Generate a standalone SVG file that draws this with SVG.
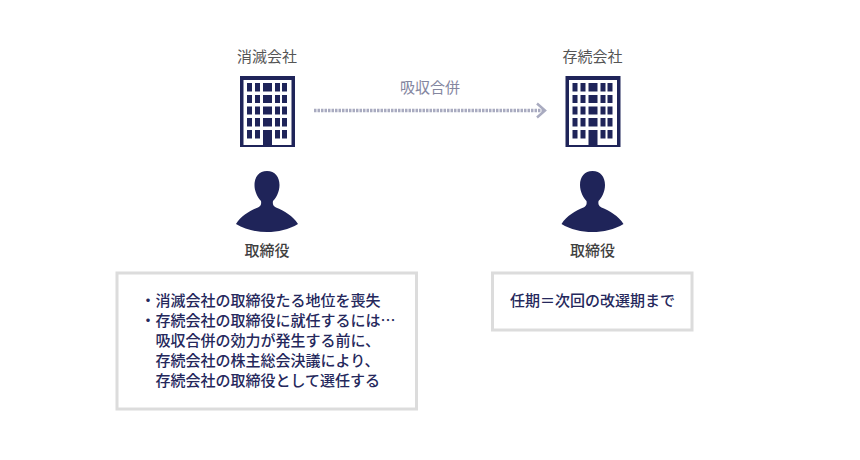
<svg xmlns="http://www.w3.org/2000/svg" width="860" height="460" viewBox="0 0 860 460">
<style>
text{font-family:"Noto Sans CJK JP","Noto Sans CJK SC",sans-serif;font-size:15px;}
.lbl{fill:#555;text-anchor:middle;}
.role{fill:#3f3f3f;text-anchor:middle;font-weight:500;}
.merge{fill:#84869f;text-anchor:middle;}
.body{fill:#25285c;font-weight:500;}
.box{fill:#fff;stroke:#dcdcdc;stroke-width:3;}
.navy{fill:#1f2459;}
</style>
<defs>
<g id="bld">
<rect class="navy" x="240" y="76" width="55" height="71"/>
<rect fill="#fff" x="243.5" y="80" width="48" height="65"/>
<g class="navy">
<rect x="247" y="83" width="5" height="8.500"/><rect x="255" y="83" width="5" height="8.500"/><rect x="263" y="83" width="9" height="8.500"/><rect x="275" y="83" width="5" height="8.500"/><rect x="282" y="83" width="5" height="8.500"/>
<rect x="247" y="95" width="5" height="8"/><rect x="255" y="95" width="5" height="8"/><rect x="263" y="95" width="9" height="8"/><rect x="275" y="95" width="5" height="8"/><rect x="282" y="95" width="5" height="8"/>
<rect x="247" y="106.500" width="5" height="8"/><rect x="255" y="106.500" width="5" height="8"/><rect x="263" y="106.500" width="9" height="8"/><rect x="275" y="106.500" width="5" height="8"/><rect x="282" y="106.500" width="5" height="8"/>
<rect x="247" y="118" width="5" height="8.500"/><rect x="255" y="118" width="5" height="8.500"/><rect x="263" y="118" width="9" height="8.500"/><rect x="275" y="118" width="5" height="8.500"/><rect x="282" y="118" width="5" height="8.500"/>
<rect x="247" y="130" width="5" height="8.500"/><rect x="255" y="130" width="5" height="8.500"/><rect x="263" y="130" width="9" height="15"/><rect x="275" y="130" width="5" height="8.500"/><rect x="282" y="130" width="5" height="8.500"/>
</g>
</g>
<path id="person" class="navy" d="M267 171C259 171 254.500 177 254.500 185C254.500 192 258 198 261 201C261.500 204 261 206 258 207.500C250 210.500 241 216 236 224C245 229.500 256 232 267 232C278 232 289 229.500 298 224C293 216 284 210.500 276 207.500C273 206 272.500 204 273 201C276 198 279.500 192 279.500 185C279.500 177 275 171 267 171Z"/>
</defs>
<g id="connectors">
<line x1="314" y1="110.500" x2="544" y2="110.500" stroke="#a9abc0" stroke-width="3.500" stroke-dasharray="2.500 1"/>
<path d="M537 103.500L545 110.500L537 117.500" fill="none" stroke="#a9abc0" stroke-width="2.500"/>
</g>
<g id="merge-label"><text class="merge" x="430" y="93">吸収合併</text></g>
<g id="absorbed-company">
<text class="lbl" x="267" y="62">消滅会社</text>
<use href="#bld"/>
</g>
<g id="surviving-company">
<text class="lbl" x="592.500" y="62">存続会社</text>
<use href="#bld" x="325.500"/>
</g>
<g id="absorbed-director">
<use href="#person"/>
<text class="role" x="267" y="256">取締役</text>
</g>
<g id="surviving-director">
<use href="#person" x="325.500"/>
<text class="role" x="592.500" y="256">取締役</text>
</g>
<g id="absorbed-note">
<rect class="box" x="117" y="273" width="299.500" height="136"/>
<text class="body" x="140.500" y="306">・消滅会社の取締役たる地位を喪失</text>
<text class="body" x="140.500" y="326">・存続会社の取締役に就任するには…</text>
<text class="body" x="155.500" y="346">吸収合併の効力が発生する前に、</text>
<text class="body" x="155.500" y="366">存続会社の株主総会決議により、</text>
<text class="body" x="155.500" y="386">存続会社の取締役として選任する</text>
</g>
<g id="surviving-note">
<rect class="box" x="492.500" y="273" width="199.500" height="57"/>
<text class="body" x="592.500" y="306" text-anchor="middle">任期＝次回の改選期まで</text>
</g>
</svg>
